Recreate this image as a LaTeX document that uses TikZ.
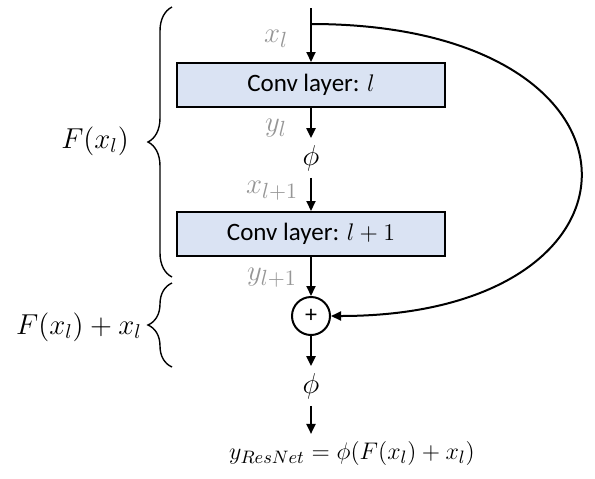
\documentclass[tikz,border=0pt]{standalone}
\usepackage{fontspec}
\setmainfont{Carlito}
\usepackage{amsmath}
\usetikzlibrary{arrows.meta,decorations.pathreplacing}

\definecolor{convblue}{RGB}{218,227,243}
\definecolor{labgray}{RGB}{150,150,150}

\begin{document}
\begin{tikzpicture}[x=0.5pt,y=-0.5pt,
    font=\fontsize{14.5}{17}\selectfont,
    flow/.style={line width=1pt,-{Triangle[length=5pt,width=4.5pt]}},
    convbox/.style={draw,line width=1pt,fill=convblue,minimum width=134pt,minimum height=22pt,inner sep=0pt,font=\fontsize{12.5}{15}\selectfont},
    addnode/.style={draw,circle,line width=1pt,minimum size=19pt,inner sep=0pt,font=\fontsize{12}{14}\selectfont},
    sig/.style={labgray,font=\fontsize{15}{18}\selectfont},
    curly/.style={decorate,decoration={brace,amplitude=12pt},line width=0.7pt}]
\useasboundingbox (0,0) rectangle (595,478);

% main path
\coordinate (in) at (311,8);
\node[convbox] (conv1) at (311,85) {Conv layer: $l$};
\node (phi1) at (311,158) {$\phi$};
\node[convbox] (conv2) at (311,234) {Conv layer: $l+1$};
\node[addnode] (add) at (311,316) {+};
\node (phi2) at (311,386) {$\phi$};
\node[font=\fontsize{12.8}{15}\selectfont] (out) at (352,453) {$y_{ResNet}=\phi(F(x_l)+x_l)$};

\draw[flow] (in) -- (conv1);
\draw[flow] (conv1) -- (phi1);
\draw[flow] (phi1) -- (conv2);
\draw[flow] (conv2) -- (add);
\draw[flow] (add) -- (phi2);
\draw[flow] (phi2) -- (phi2 |- out.north);

% signal names beside the arrows
\node[sig] (xl) at (276,39) {$x_l$};
\node[sig] (yl) at (276,128) {$y_l$};
\node[sig] (xl1) at (272,191) {$x_{l+1}$};
\node[sig] (yl1) at (272,278) {$y_{l+1}$};

% identity shortcut
\coordinate (skip) at (311,24);
\draw[flow] (skip) .. controls (667,24) and (667,316) .. (add.east);

% braces on the left
\coordinate (b1top) at (172,7);
\coordinate (b1bot) at (172,277);
\coordinate (b2top) at (172,283);
\coordinate (b2bot) at (172,367);
\draw[curly] (b1bot) -- (b1top);
\draw[curly] (b2bot) -- (b2top);
\node (fx) at (95,141) {$F(x_l)$};
\node (fxx) at (79,327) {$F(x_l)+x_l$};
\end{tikzpicture}
\end{document}
